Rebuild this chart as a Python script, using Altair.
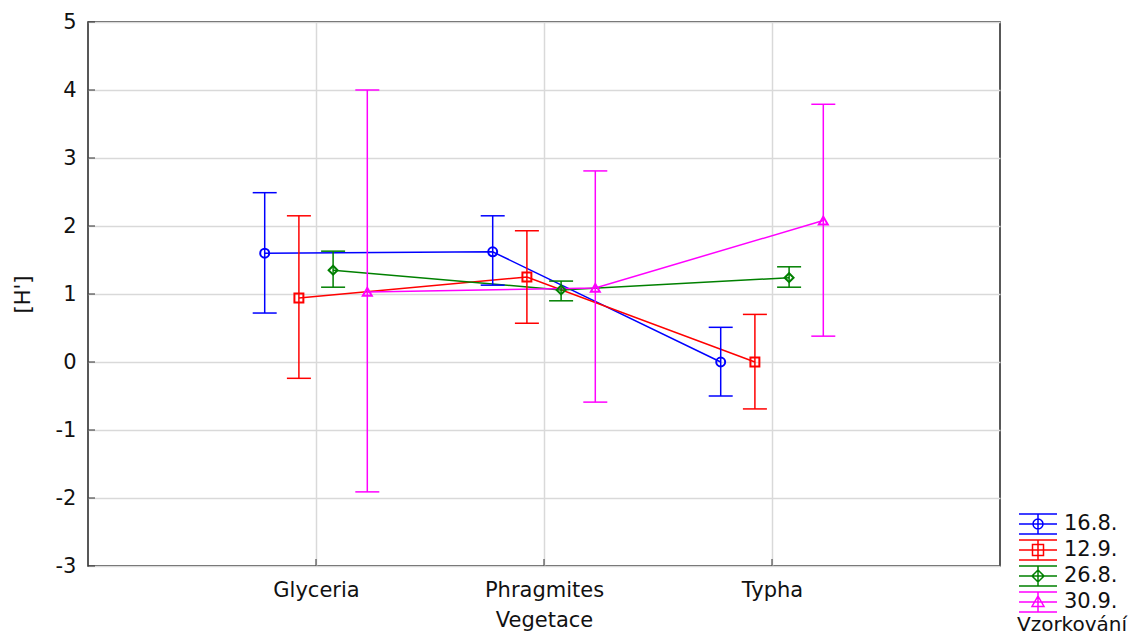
import json
import altair as alt
import pandas as pd

categories = ["Glyceria", "Phragmites", "Typha"]
series = ["16.8.", "12.9.", "26.8.", "30.9."]
colors = ["#0000ff", "#ff0000", "#008000", "#ff00ff"]
point_shapes = ["circle", "square", "diamond", "triangle-up"]
dodge = [-0.225, -0.075, 0.075, 0.225]

means = {
    "16.8.": [1.60, 1.62, 0.00],
    "12.9.": [0.94, 1.25, 0.00],
    "26.8.": [1.35, 1.06, 1.24],
    "30.9.": [1.03, 1.09, 2.08],
}
lower = {
    "16.8.": [0.72, 1.13, -0.50],
    "12.9.": [-0.24, 0.57, -0.69],
    "26.8.": [1.10, 0.90, 1.10],
    "30.9.": [-1.91, -0.59, 0.38],
}
upper = {
    "16.8.": [2.49, 2.15, 0.51],
    "12.9.": [2.15, 1.93, 0.70],
    "26.8.": [1.63, 1.19, 1.40],
    "30.9.": [4.00, 2.81, 3.79],
}
yticks = [-3, -2, -1, 0, 1, 2, 3, 4, 5]
xticks = [1, 2, 3]

# legend glyphs: error bar with caps plus marker (symbol unit = 10px)
glyph = "M-1.9,-1H1.9M-1.9,1H1.9M-1.9,0H1.9M0,-1V1"
legend_paths = [
    glyph + "M0.5,0A0.5,0.5 0 1,1 -0.5,0A0.5,0.5 0 1,1 0.5,0Z",
    glyph + "M-0.55,-0.55H0.55V0.55H-0.55Z",
    glyph + "M0,-0.6L0.6,0L0,0.6L-0.6,0Z",
    glyph + "M0,-0.6L0.6,0.45H-0.6Z",
]

rows = []
for si, s in enumerate(series):
    for ci, c in enumerate(categories):
        rows.append({
            "series": s, "series_pt": s, "cat": c,
            "pos": ci + 1 + dodge[si],
            "mean": means[s][ci], "lo": lower[s][ci], "hi": upper[s][ci],
        })
df = pd.DataFrame(rows)

FONT = "DejaVu Sans"
FS = 21
label_expr = json.dumps(categories) + "[datum.value - 1]"

x_enc = alt.X("pos:Q", scale=alt.Scale(domain=[0, 4], nice=False, zero=False),
              axis=alt.Axis(values=xticks, labelExpr=label_expr, title="Vegetace",
                            grid=True, ticks=False, domain=False,
                            labelPadding=13, titlePadding=9))
y_enc = alt.Y("mean:Q", scale=alt.Scale(domain=[-3, 5], nice=False, zero=False),
              axis=alt.Axis(values=yticks, labelExpr="'' + datum.value", title="[H']",
                            grid=True, ticks=False, domain=False,
                            labelPadding=12, titlePadding=22))

cscale = alt.Scale(domain=series, range=colors)
col = alt.Color("series:N", scale=cscale, legend=None)

base = alt.Chart(df)

lines = base.mark_line(strokeWidth=1.5).encode(x=x_enc, y=y_enc, color=col, detail="series:N")
bars = base.mark_rule(strokeWidth=1.5).encode(x="pos:Q", y="lo:Q", y2="hi:Q", color=col)
cap_hi = base.mark_tick(orient="horizontal", size=24, thickness=1.5, opacity=1).encode(
    x="pos:Q", y="hi:Q", color=col)
cap_lo = base.mark_tick(orient="horizontal", size=24, thickness=1.5, opacity=1).encode(
    x="pos:Q", y="lo:Q", color=col)
pts = base.mark_point(filled=False, strokeWidth=2, size=80, opacity=1).encode(
    x="pos:Q", y="mean:Q", color=col,
    shape=alt.Shape("series_pt:N", scale=alt.Scale(domain=series, range=point_shapes), legend=None))

leg_props = dict(title="Vzorkování", orient="none", legendX=929, legendY=491,
                 titleOrient="bottom", titleAnchor="middle", symbolSize=400,
                 symbolStrokeWidth=1.5, symbolOpacity=1, labelFontSize=FS, titleFontSize=20,
                 labelFont=FONT, titleFont=FONT, titleFontWeight="normal",
                 labelColor="#111", titleColor="#111",
                 rowPadding=0, labelOffset=15, titlePadding=0)

leg = base.mark_point(filled=False, strokeWidth=1.5, opacity=0).encode(
    x="pos:Q", y="mean:Q",
    color=alt.Color("series:N", scale=cscale, legend=alt.Legend(**leg_props)),
    shape=alt.Shape("series:N", scale=alt.Scale(domain=series, range=legend_paths),
                    legend=alt.Legend(**leg_props)),
)

ytk = alt.Chart(pd.DataFrame({"v": yticks})).mark_rule(color="#333", strokeWidth=1).encode(
    y="v:Q", x=alt.value(0), x2=alt.value(7))
xtk = alt.Chart(pd.DataFrame({"p": xticks})).mark_rule(color="#333", strokeWidth=1).encode(
    x="p:Q", y=alt.value(544), y2=alt.value(537))

chart = alt.layer(lines, bars, cap_hi, cap_lo, pts, leg, ytk, xtk).resolve_scale(
    color="independent", shape="independent"
).properties(
    width=912, height=544,
    autosize=alt.AutoSizeParams(type="none"),
    padding={"left": 80, "top": 14, "right": 133, "bottom": 65},
).configure_view(stroke="#222", strokeWidth=1.5).configure_axis(
    labelFont=FONT, titleFont=FONT, labelFontSize=FS, titleFontSize=FS,
    titleFontWeight="normal", labelColor="#111", titleColor="#111",
    gridColor="#d9d9d9", gridWidth=1.5,
)

chart.save("out.html", embed_options={"renderer": "svg", "actions": False})
